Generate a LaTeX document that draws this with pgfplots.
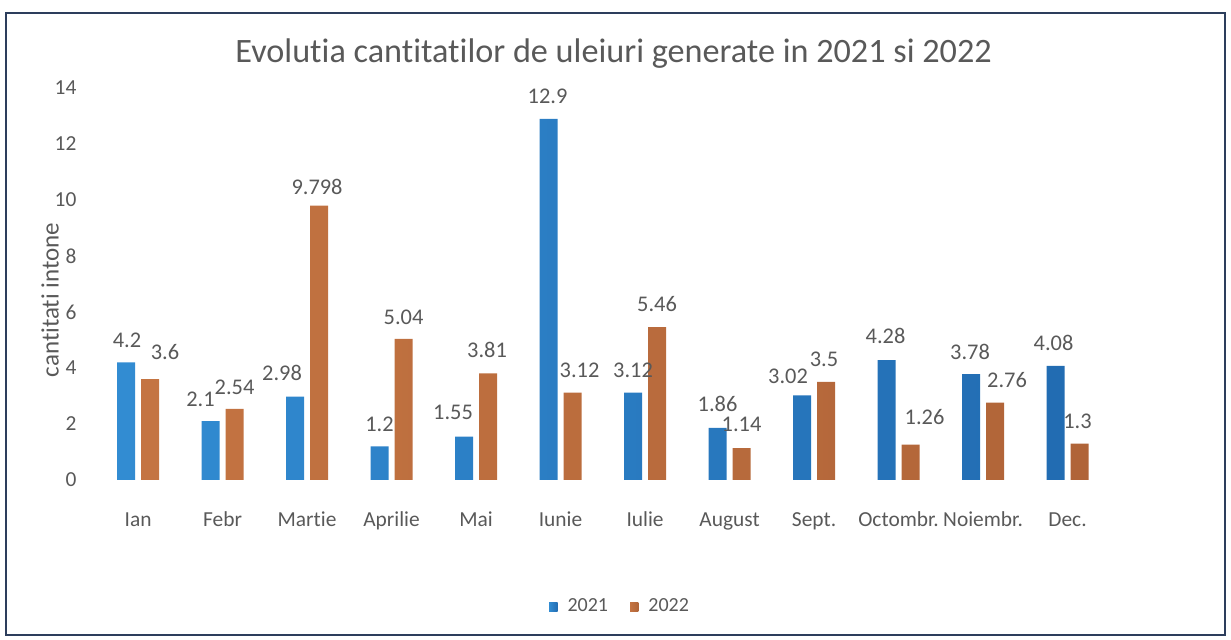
\documentclass[border=0pt]{standalone}
\usepackage{pgfplots}
\pgfplotsset{compat=1.18}
\usepackage{pgfplotstable}
\usepackage{fontspec}
\setmainfont{Carlito}[Ligatures=NoCommon]

\definecolor{blueL}{RGB}{50,140,210}
\definecolor{blueM}{RGB}{78,166,228}
\definecolor{blueR}{RGB}{34,108,178}
\definecolor{orangeL}{RGB}{196,116,66}
\definecolor{orangeM}{RGB}{224,146,96}
\definecolor{orangeR}{RGB}{176,100,56}
\definecolor{txtgrey}{RGB}{89,89,89}
\definecolor{frame}{RGB}{45,62,92}

% x = month index, y = value, dx/dy = label offsets (pt)
\pgfplotstableread{
x y dx dy
0 4.2 0.5 11
1 2.1 -5 11
2 2.98 -6.5 12
3 1.2 0 11
4 1.55 -5.5 12
5 12.9 -0.5 11
6 3.12 0 11
7 1.86 0 12
8 3.02 -7 9.5
9 4.28 -0.5 12
10 3.78 -0.5 11
11 4.08 -1 11.5
}\datatwentyone

\pgfplotstableread{
x y dx dy
0 3.6 7.5 13.5
1 2.54 0 11
2 9.798 -1 9.5
3 5.04 0 11
4 3.81 -0.5 11.5
5 3.12 3.5 11
6 5.46 0 11.5
7 1.14 0 12
8 3.5 -1 11.5
9 1.26 7 14
10 2.76 6 11.5
11 1.3 -1 11
}\datatwentytwo

\begin{document}
\begin{tikzpicture}
\path (0,0) rectangle (615.5pt,320pt);
\draw[frame, line width=1pt] (3pt,2.5pt) rectangle (612.5pt,313.5pt);

\node[anchor=base, text=txtgrey, font=\fontsize{17.1}{20}\selectfont] at (306.8pt,288.5pt)
  {Evolutia cantitatilor de uleiuri generate in 2021 si 2022};
\node[rotate=90, text=txtgrey, font=\fontsize{12.5}{14}\selectfont] at (25pt,170pt)
  {cantitati intone};

\begin{axis}[
    at={(47.9pt,80pt)}, anchor=south west,
    scale only axis, width=507pt, height=196pt,
    xmin=-0.5, xmax=11.5, ymin=0, ymax=14,
    ybar=3pt, bar width=9pt,
    axis line style={draw=none}, tick style={draw=none},
    clip=false,
    xtick={0,...,11},
    xticklabels={Ian,Febr,Martie,Aprilie,Mai,Iunie,Iulie,August,Sept.,Octombr.,Noiembr.,Dec.},
    ytick={0,2,...,14},
    /pgf/number format/assume math mode=true,
    ticklabel style={text=txtgrey, font=\fontsize{10.7}{12}\selectfont, inner sep=0pt},
    xticklabel style={anchor=base, yshift=-19pt},
    yticklabel style={anchor=east, xshift=-9.5pt},
    point meta=explicit symbolic,
    nodes near coords,
    visualization depends on={\thisrow{dx} \as \labdx},
    visualization depends on={\thisrow{dy} \as \labdy},
    every node near coord/.append style={anchor=center, text=txtgrey,
        font=\fontsize{11.2}{13}\selectfont, inner sep=0pt,
        xshift=\labdx pt, yshift=\labdy pt},
    legend columns=-1,
    legend style={at={(0.518,-0.324)}, anchor=center, draw=none, fill=none,
        font=\fontsize{10}{12}\selectfont, text=txtgrey,
        /tikz/every odd column/.append style={column sep=3pt},
        /tikz/every even column/.append style={column sep=9pt}},
    legend image code/.code={\fill[#1] (0pt,-2pt) rectangle (4.2pt,2.2pt);},
]
\addplot[left color=blueL, middle color=blueM, right color=blueR, draw=none]
    table[x=x, y=y, meta=y] {\datatwentyone};
\addlegendentry{2021}
\addplot[left color=orangeL, middle color=orangeM, right color=orangeR, draw=none]
    table[x=x, y=y, meta=y] {\datatwentytwo};
\addlegendentry{2022}
\end{axis}
\end{tikzpicture}
\end{document}
